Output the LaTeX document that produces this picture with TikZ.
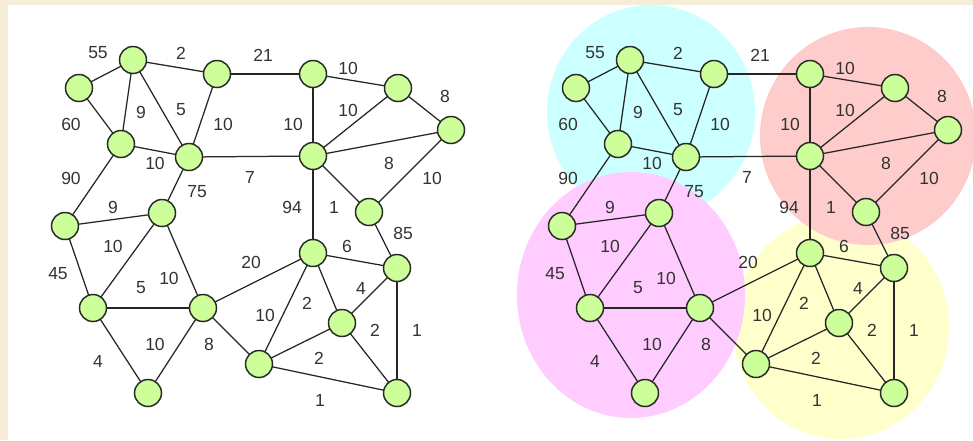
\documentclass[tikz,border=0pt]{standalone}
\usepackage{fontspec}
\setmainfont{Liberation Sans}
\definecolor{frame}{HTML}{F5EDD6}
\definecolor{vfill}{HTML}{CCFF99}
\definecolor{vline}{HTML}{2A2A2A}
\definecolor{cyanzone}{HTML}{CCFFFF}
\definecolor{redzone}{HTML}{FFCCCC}
\definecolor{pinkzone}{HTML}{FFCCFF}
\definecolor{yellowzone}{HTML}{FFFFCC}
\tikzset{
  vtx/.style={circle, draw=vline, fill=vfill, line width=1.5pt, minimum size=27pt, inner sep=0pt},
  wedge/.style={draw=black!85, line width=1.25pt},
  wlabel/.style={font=\fontsize{17.5}{17.5}\selectfont, text=black!80, inner sep=0pt},
}
% Weighted graph; #1 is the prefix for node names
\newcommand\wgraph[1]{%
  % vertex positions
  \path (133,60) coordinate (#1pa) (79,88) coordinate (#1pb) (217,74) coordinate (#1pc)
        (313,74) coordinate (#1pd) (398,88) coordinate (#1pe) (451,130) coordinate (#1pf)
        (121,144) coordinate (#1pg) (189,157) coordinate (#1ph) (313,156) coordinate (#1pi)
        (369,212) coordinate (#1pj) (65,226) coordinate (#1pk) (162,213) coordinate (#1pl)
        (313,253) coordinate (#1pm) (397,268) coordinate (#1pn) (93,308) coordinate (#1po)
        (203,308) coordinate (#1pp) (342,323) coordinate (#1pq) (259,364) coordinate (#1pr)
        (148,393) coordinate (#1ps) (397,393) coordinate (#1pt);
  % edges first, vertices on top
  \foreach \u/\v in {a/b,a/c,a/g,a/h,c/h,b/g,g/h,c/d,d/e,d/i,e/i,e/f,i/f,f/j,i/j,i/m,h/i,
                     g/k,h/l,k/l,k/o,l/o,l/p,o/p,o/s,p/s,p/r,p/m,m/r,m/q,m/n,j/n,n/q,n/t,
                     q/r,q/t,r/t}
    \draw[wedge] (#1p\u) -- (#1p\v);
  \foreach \w in {a,b,c,d,e,f,g,h,i,j,k,l,m,n,o,p,q,r,s,t}
    \node[vtx] (#1\w) at (#1p\w) {};
  \foreach \x/\y/\t in {98/53/55, 181/53/2, 141/112/9, 181/110/5, 223/124/10, 71/124/60,
                        155/163/10, 71/178/90, 197/192/75, 113/207/9, 263/55/21, 348/68/10,
                        445/96/8, 348/110/10, 293/124/10, 389/163/8, 432/178/10, 250/177/7,
                        292/207/94, 334/207/1, 113/246/10, 58/274/45, 141/288/5, 169/278/10,
                        155/344/10, 209/344/8, 98/361/4, 251/262/20, 347/246/6, 403/233/85,
                        307/303/2, 265/315/10, 361/288/4, 375/330/2, 417/330/1, 319/358/2,
                        320/400/1}
    \node[wlabel] at (\x,\y) {\t};
}
\begin{document}
\begin{tikzpicture}[x=1pt,y=-1pt]
  % page background and frame strips
  \fill[white] (0,0) rectangle (973,440);
  \fill[frame] (0,0) rectangle (973,5);
  \fill[frame] (0,0) rectangle (8,440);
  \useasboundingbox (0,0) rectangle (973,440);
  % plain graph
  \wgraph{L}
  % partitioned copy with cluster regions
  \begin{scope}
    \clip (8,5) rectangle (973,440);
    \fill[yellowzone] (841,327) ellipse [x radius=108, y radius=112];
    \fill[cyanzone] (651,112) ellipse [x radius=104, y radius=107];
    \fill[redzone] (868,136) ellipse [x radius=108, y radius=109];
    \fill[pinkzone] (631,295) ellipse [x radius=114, y radius=123];
  \end{scope}
  \begin{scope}[xshift=497pt]
    \wgraph{R}
  \end{scope}
\end{tikzpicture}
\end{document}
